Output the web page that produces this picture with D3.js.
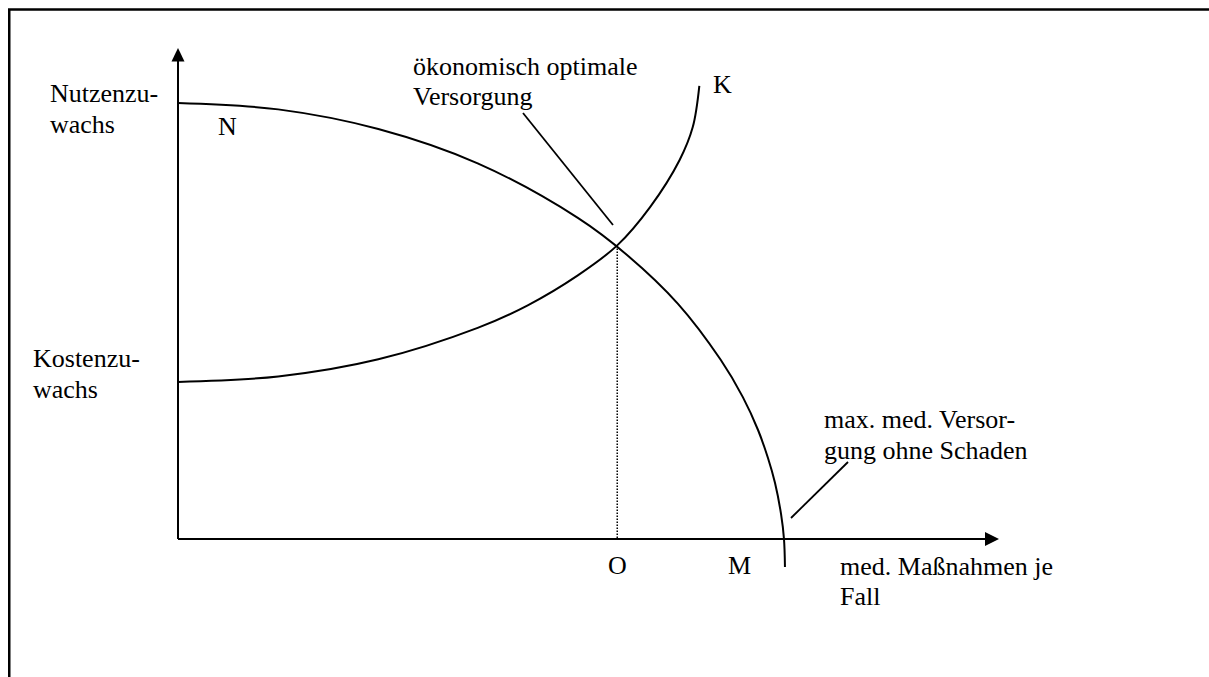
<!DOCTYPE html>
<html>
<head>
<meta charset="utf-8">
<script src="https://cdn.jsdelivr.net/npm/d3@7"></script>
<style>
  html, body { margin: 0; padding: 0; background: #fff; }
  svg { display: block; }
  text { font-family: "Liberation Serif", "Times New Roman", serif; font-size: 26px; fill: #000; }
</style>
</head>
<body>
<svg id="chart" width="1209" height="677"></svg>
<script>
// ---- data (arbitrary units: x 0..100, y 0..100) ----
const nutzenX = [0, 12.2, 24.4, 36.5, 48.7, 54.8, 60.9, 66.1, 68.8, 70.65, 71.86, 72.72, 73.45, 73.81, 73.93];
const nutzenY = [88.8, 87.5, 83.5, 76.5, 65.4, 57.7, 47.9, 36.5, 28.9, 22.2, 16.5, 11.4, 5.1, 0, -5.7];
const kostenX = [0, 12.2, 24.4, 36.5, 42.6, 48.7, 53.5, 57.5, 61.1, 62.7, 63.5];
const kostenY = [32.0, 33.1, 36.6, 43.0, 47.6, 53.7, 59.8, 67.6, 77.2, 83.9, 92.3];
const optimumX = 53.5;   // O
const optimumY = 59.8;
const curveLabels = ["N", "K"];
const pointLabels = ["O", "M"];
const yAxisLabels = [["Nutzenzu-", "wachs"], ["Kostenzu-", "wachs"]];
const xAxisLabel = ["med. Maßnahmen je", "Fall"];
const noteLabels = [["ökonomisch optimale", "Versorgung"], ["max. med. Versor-", "gung ohne Schaden"]];

// ---- layout ----
const svg = d3.select("#chart");
const x = d3.scaleLinear().domain([0, 100]).range([178, 999]);
const y = d3.scaleLinear().domain([0, 100]).range([539, 48]);

// frame (right/bottom edges fall outside the picture)
svg.append("rect").attr("x", 9.25).attr("y", 9.5).attr("width", 1230).attr("height", 700)
  .attr("fill", "none").attr("stroke", "#000").attr("stroke-width", 2.5);

// axes
const axisG = svg.append("g");
axisG.append("line").attr("x1", x(0)).attr("x2", x(0)).attr("y1", y(0)).attr("y2", y(100) + 13)
  .attr("stroke", "#000").attr("stroke-width", 2);
axisG.append("line").attr("x1", x(0)).attr("x2", x(100) - 14).attr("y1", y(0)).attr("y2", y(0))
  .attr("stroke", "#000").attr("stroke-width", 2);
axisG.append("path")
  .attr("d", `M${x(0)},${y(100)} L${x(0) - 6.5},${y(100) + 13.5} L${x(0) + 6.5},${y(100) + 13.5} Z`)
  .attr("fill", "#000");
axisG.append("path")
  .attr("d", `M${x(100)},${y(0)} L${x(100) - 14},${y(0) - 7} L${x(100) - 14},${y(0) + 7} Z`)
  .attr("fill", "#000");

// curves
const line = d3.line().x(d => x(d[0])).y(d => y(d[1])).curve(d3.curveCatmullRom.alpha(0.5));
svg.append("path").datum(d3.zip(nutzenX, nutzenY)).attr("d", line)
  .attr("fill", "none").attr("stroke", "#000").attr("stroke-width", 2);
svg.append("path").datum(d3.zip(kostenX, kostenY)).attr("d", line)
  .attr("fill", "none").attr("stroke", "#000").attr("stroke-width", 2);

// dotted drop line
svg.append("line").attr("x1", x(optimumX)).attr("x2", x(optimumX)).attr("y1", y(optimumY)).attr("y2", y(0))
  .attr("stroke", "#000").attr("stroke-width", 1.5).attr("stroke-dasharray", "1.5,1.5");

// leader lines
svg.append("line").attr("x1", 523).attr("y1", 113).attr("x2", 613).attr("y2", 225)
  .attr("stroke", "#000").attr("stroke-width", 1.8);
svg.append("line").attr("x1", 791).attr("y1", 518).attr("x2", 848).attr("y2", 462)
  .attr("stroke", "#000").attr("stroke-width", 1.8);

// texts
function multi(lines, x0, y0, lh) {
  const t = svg.append("text").attr("x", x0).attr("y", y0);
  lines.forEach((s, i) => t.append("tspan").attr("x", x0).attr("y", y0 + i * lh).text(s));
}
multi(yAxisLabels[0], 50, 102, 31);
multi(yAxisLabels[1], 33, 367, 31);
multi(noteLabels[0], 413, 75, 30);
multi(noteLabels[1], 824, 428, 31);
multi(xAxisLabel, 840, 575, 30);
svg.append("text").attr("x", 218).attr("y", 135).text(curveLabels[0]);
svg.append("text").attr("x", 713).attr("y", 93).text(curveLabels[1]);
svg.append("text").attr("x", 608).attr("y", 574).text(pointLabels[0]);
svg.append("text").attr("x", 728).attr("y", 574).text(pointLabels[1]);
</script>
</body>
</html>
